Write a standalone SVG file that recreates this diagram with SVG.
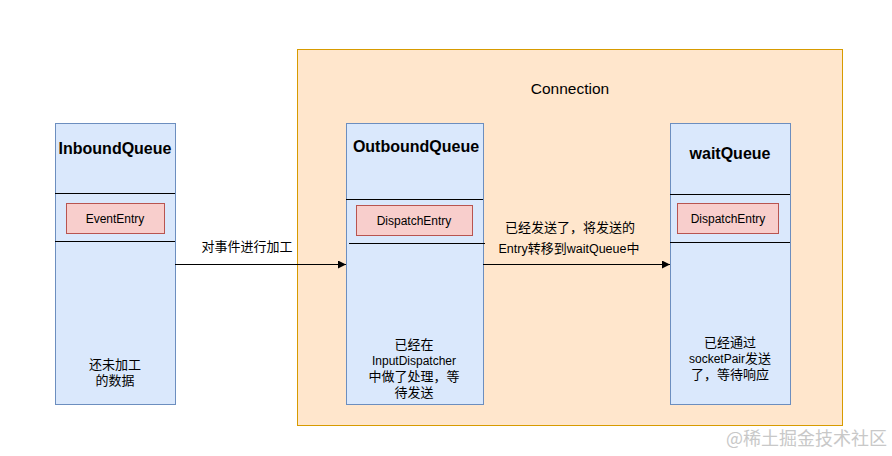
<svg xmlns="http://www.w3.org/2000/svg" width="892" height="456" viewBox="0 0 892 456">
<style>
.t{font-family:"Liberation Sans","Noto Sans CJK SC",sans-serif;font-size:12px;fill:#000;text-anchor:middle}
.k{font-size:13px}
.h{font-family:"Liberation Sans","Noto Sans CJK SC",sans-serif;font-size:16px;font-weight:bold;fill:#000;text-anchor:middle}
.q{fill:#dae8fc;stroke:#6c8ebf;stroke-width:1}
.e{fill:#f8cecc;stroke:#b85450;stroke-width:1}
.d{stroke:#000;stroke-width:1}
.c{stroke:#000;stroke-width:1;fill:none}
</style>
<defs>
<marker id="arr" viewBox="0 0 10 10" refX="10" refY="5" markerWidth="8" markerHeight="8" markerUnits="userSpaceOnUse" orient="auto">
<path d="M0,0 L10,5 L0,10 z" fill="#000"/>
</marker>
</defs>
<rect width="892" height="456" fill="#fff"/>
<g id="connection">
<rect x="297.5" y="49.5" width="545" height="376" fill="#ffe6cc" stroke="#d79b00"/>
<text class="t" x="570" y="94" style="font-size:15.5px">Connection</text>
</g>
<g id="inbound">
<rect class="q" x="55.5" y="123.5" width="120" height="281"/>
<text class="h" x="115" y="154">InboundQueue</text>
<line class="d" x1="55" y1="193.5" x2="175" y2="193.5"/>
<rect class="e" x="66.5" y="203.5" width="98" height="30"/>
<text class="t" x="115" y="223">EventEntry</text>
<line class="d" x1="55" y1="241.5" x2="175" y2="241.5"/>
<text class="t k" x="115" y="369">还未加工</text>
<text class="t k" x="115" y="385">的数据</text>
</g>
<g id="outbound">
<rect class="q" x="346.5" y="123.5" width="137" height="281"/>
<text class="h" x="416" y="152">OutboundQueue</text>
<line class="d" x1="346" y1="199.5" x2="483" y2="199.5"/>
<rect class="e" x="356.5" y="205.5" width="116" height="30"/>
<text class="t" x="414" y="225">DispatchEntry</text>
<line class="d" x1="349" y1="243.5" x2="485" y2="243.5"/>
<text class="t k" x="414" y="349">已经在</text>
<text class="t" x="414" y="365">InputDispatcher</text>
<text class="t k" x="414" y="381">中做了处理，等</text>
<text class="t k" x="414" y="397">待发送</text>
</g>
<g id="waitqueue">
<rect class="q" x="670.5" y="123.5" width="120" height="281"/>
<text class="h" x="730" y="159">waitQueue</text>
<line class="d" x1="670" y1="194.5" x2="790" y2="194.5"/>
<rect class="e" x="677.5" y="203.5" width="101" height="30"/>
<text class="t" x="728" y="223">DispatchEntry</text>
<line class="d" x1="670" y1="242.5" x2="790" y2="242.5"/>
<text class="t k" x="730" y="347">已经通过</text>
<text class="t" x="730" y="363">socketPair<tspan class="k">发送</tspan></text>
<text class="t k" x="730" y="379">了，等待响应</text>
</g>
<g id="connectors">
<line class="c" x1="175" y1="264.5" x2="346" y2="264.5" marker-end="url(#arr)"/>
<text class="t k" x="247" y="251">对事件进行加工</text>
<line class="c" x1="483" y1="264.5" x2="670" y2="264.5" marker-end="url(#arr)"/>
<text class="t k" x="570" y="232">已经发送了，将发送的</text>
<text class="t" x="569" y="253" style="font-size:12.5px">Entry<tspan class="k">转移到</tspan>waitQueue<tspan class="k">中</tspan></text>
</g>
<text x="887" y="445" style="font-family:'Noto Sans CJK SC',sans-serif;font-size:18px;fill:#c8c8c8;text-anchor:end">@稀土掘金技术社区</text>
</svg>
